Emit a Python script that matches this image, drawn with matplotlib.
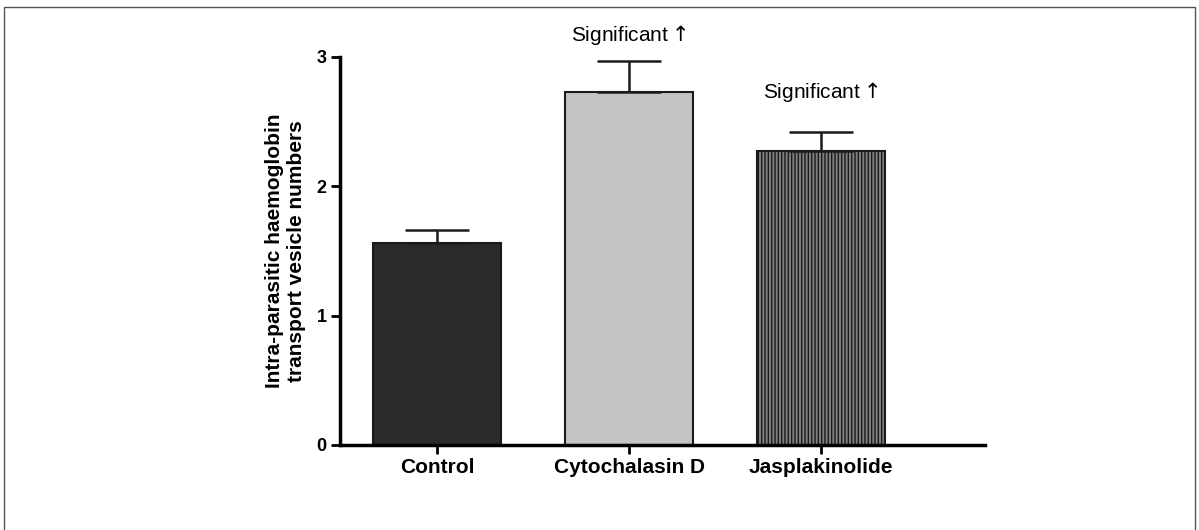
import matplotlib
matplotlib.use("Agg")
import matplotlib.pyplot as plt
from matplotlib.patches import Rectangle

categories = ["Control", "Cytochalasin D", "Jasplakinolide"]
means = [1.56, 2.73, 2.27]
errors = [0.10, 0.24, 0.15]
annotations = ["", "Significant$\\uparrow$", "Significant$\\uparrow$"]
yticks = [0, 1, 2, 3]

plt.rcParams['font.family'] = ['Liberation Sans', 'DejaVu Sans']

fig = plt.figure(figsize=(11.99, 5.30), dpi=100)
# outer frame
fig.patches.append(Rectangle((0.003, -0.01), 0.994, 0.997, transform=fig.transFigure,
                             fill=False, edgecolor='#555555', linewidth=1.0))

ax = fig.add_axes([0.2836, 0.1604, 0.8215 - 0.2836, 0.8925 - 0.1604])
x = list(range(len(categories)))
face = ['#2a2a2a', '#c4c4c4', '#808080']
hatches = [None, None, '|||||']
text_offsets = [0, 10, 20]
for i in x:
    ax.bar(i, means[i], width=0.667, color=face[i], edgecolor='#1a1a1a',
           linewidth=1.5, hatch=hatches[i], zorder=2)
    ax.errorbar(i, means[i], yerr=[[0], [errors[i]]], fmt='none', ecolor='#1a1a1a',
                elinewidth=1.8, capsize=23, capthick=1.8, zorder=3)
    if annotations[i]:
        ax.annotate(annotations[i], (i, means[i] + errors[i]), xytext=(0, text_offsets[i]),
                    textcoords='offset points', ha='center', va='bottom', fontsize=15)

ax.set_xlim(-0.505, 2.854)
ax.set_ylim(0, 3)
ax.set_yticks(yticks)
ax.set_yticklabels([str(t) for t in yticks], fontsize=13, fontweight='bold')
ax.set_xticks(x)
ax.set_xticklabels(categories, fontsize=15, fontweight='bold')
ax.spines['top'].set_visible(False)
ax.spines['right'].set_visible(False)
ax.spines['left'].set_linewidth(2.5)
ax.spines['bottom'].set_linewidth(2.5)
ax.tick_params(axis='both', width=2, length=6.5, direction='out', pad=3)
ax.set_ylabel("Intra-parasitic haemoglobin\ntransport vesicle numbers", fontsize=15,
              fontweight='bold', labelpad=8, linespacing=1.15)

fig.savefig("out.png", dpi=100)
